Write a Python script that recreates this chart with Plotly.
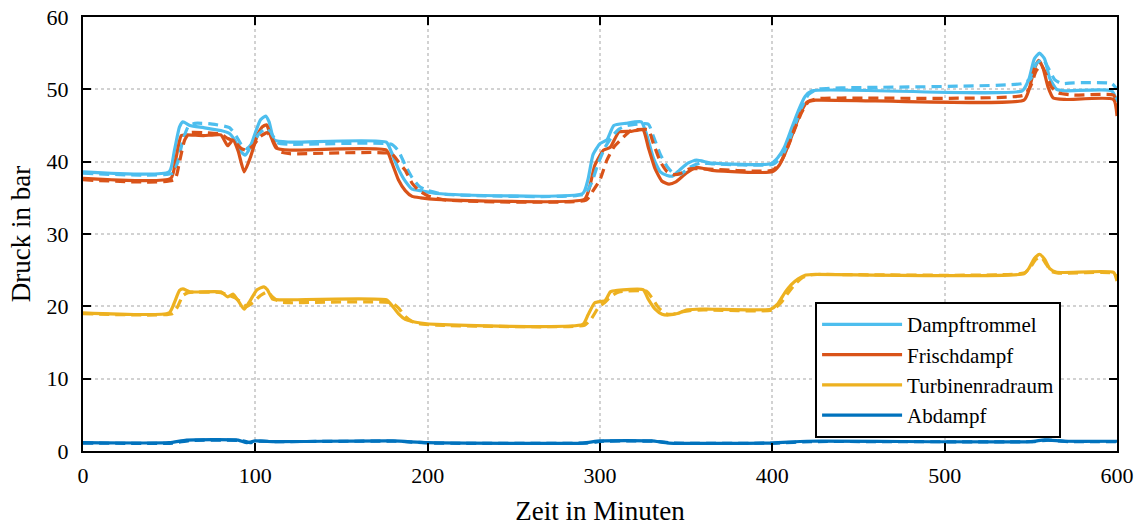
import plotly.graph_objects as go

# ---- data ----
names = ["Dampftrommel", "Frischdampf", "Turbinenradraum", "Abdampf"]
colors = ["#4DBEEE", "#D95319", "#EDB120", "#0072BD"]

t_dt = [0, 50, 53, 56, 58, 62, 70, 80, 85, 88, 91, 94, 97, 100, 103, 106, 108, 111, 120, 176, 179, 183, 187, 191, 196, 205, 290, 293, 296, 300, 304, 308, 315, 324, 327, 331, 335, 339, 342, 346, 351, 356, 365, 399, 403, 407, 411, 415, 419, 423, 545, 549, 552, 555, 558, 561, 565, 570, 597, 600]
p_dt = [38.6, 38.6, 41.5, 44.8, 45.5, 45.0, 44.7, 44.3, 43.9, 43.0, 41.6, 40.9, 42.0, 44.0, 45.8, 46.3, 45.5, 43.0, 42.7, 42.7, 41.3, 39.0, 37.3, 36.2, 36.0, 35.6, 35.6, 37.5, 41.0, 42.5, 43.0, 45.0, 45.3, 45.5, 43.8, 40.5, 38.6, 38.1, 38.0, 38.8, 39.8, 40.2, 39.8, 39.7, 40.5, 42.0, 44.5, 47.0, 49.0, 49.8, 49.8, 51.5, 54.2, 55.0, 54.2, 51.5, 50.0, 49.8, 49.8, 48.3]

t_dt_d = [0, 52, 55, 58, 61, 65, 75, 85, 89, 92, 95, 98, 102, 106, 109, 113, 120, 179, 183, 187, 191, 195, 200, 210, 291, 295, 299, 303, 307, 311, 316, 328, 331, 335, 339, 343, 347, 352, 358, 365, 400, 405, 409, 413, 417, 421, 426, 440, 545, 550, 553, 557, 560, 564, 568, 575, 597, 600]
p_dt_d = [38.4, 38.4, 40.0, 43.0, 44.8, 45.3, 45.2, 44.7, 43.5, 42.3, 41.8, 42.5, 43.8, 44.6, 44.0, 42.6, 42.4, 42.4, 41.5, 39.5, 37.8, 36.6, 36.0, 35.5, 35.5, 37.0, 39.8, 42.0, 43.5, 44.5, 45.0, 45.2, 43.5, 41.0, 39.3, 38.3, 38.3, 39.2, 39.8, 39.7, 39.6, 40.5, 42.5, 45.0, 47.5, 49.3, 50.0, 50.2, 50.8, 51.5, 53.5, 54.2, 53.0, 51.3, 50.8, 50.9, 50.8, 50.0]

t_fd = [0, 51, 54, 57, 60, 70, 80, 84, 87, 90, 93.5, 97, 101, 104, 106.5, 109, 112, 120, 176, 179, 183, 187, 191, 196, 205, 291, 294, 297, 302, 306, 311, 318, 325, 328, 332, 336, 340, 344, 350, 356, 365, 400, 404, 408, 412, 416, 420, 425, 546, 549, 552, 554.5, 557, 560, 563, 570, 598, 600]
p_fd = [37.7, 37.7, 40.5, 43.6, 43.7, 43.6, 43.7, 42.2, 43.0, 41.5, 38.6, 40.5, 43.5, 44.8, 45.1, 43.5, 41.9, 41.6, 41.6, 40.0, 37.5, 36.0, 35.2, 35.0, 34.8, 34.8, 36.5, 39.5, 41.6, 42.0, 44.1, 44.2, 44.4, 42.0, 39.0, 37.3, 36.9, 37.2, 38.4, 39.2, 38.8, 38.6, 39.5, 41.5, 44.0, 46.5, 48.2, 48.5, 48.5, 50.0, 52.8, 54.0, 53.0, 50.3, 48.8, 48.6, 48.6, 46.3]

t_fd_d = [0, 53, 56, 59, 62, 70, 80, 84, 88, 92, 95, 99, 103, 107, 110, 114, 120, 179, 183, 187, 191, 195, 200, 210, 292, 296, 300, 304, 308, 312, 318, 328, 331, 335, 339, 343, 347, 352, 360, 400, 405, 409, 413, 417, 421, 426, 440, 546, 550, 553, 556, 559, 562, 566, 575, 598, 600]
p_fd_d = [37.5, 37.5, 40.0, 43.0, 44.0, 44.0, 43.8, 43.2, 42.8, 41.8, 41.6, 42.3, 43.5, 44.0, 43.0, 41.4, 41.1, 41.1, 40.0, 38.8, 37.0, 36.0, 35.3, 34.7, 34.7, 36.0, 37.5, 40.2, 42.0, 43.0, 44.3, 44.4, 42.5, 40.0, 38.6, 38.2, 38.4, 39.0, 39.0, 38.8, 40.0, 42.0, 44.5, 46.8, 48.3, 48.7, 48.8, 49.2, 50.5, 52.5, 53.3, 52.0, 50.3, 49.5, 49.2, 49.2, 48.0]

t_tr = [0, 50, 53, 56, 58, 62, 80, 84, 87, 90, 93.5, 97, 101, 105, 107, 110, 115, 176, 179, 183, 187, 191, 196, 205, 290, 293, 297, 303, 306, 310, 325, 328, 332, 336, 340, 345, 350, 356, 365, 399, 403, 407, 411, 415, 419, 423, 546, 549, 552, 555, 558, 561, 565, 598, 600]
p_tr = [19.1, 19.1, 20.5, 22.2, 22.4, 22.0, 22.0, 21.3, 21.7, 20.8, 19.6, 20.8, 22.3, 22.7, 22.3, 21.0, 20.9, 20.9, 20.2, 19.0, 18.2, 17.9, 17.7, 17.5, 17.5, 18.8, 20.5, 20.8, 22.0, 22.2, 22.3, 21.0, 19.6, 18.9, 18.8, 19.0, 19.5, 19.6, 19.6, 19.6, 20.3, 21.8, 23.0, 23.8, 24.3, 24.4, 24.5, 25.3, 26.6, 27.2, 26.5, 25.2, 24.7, 24.7, 23.5]

t_tr_d = [0, 52, 55, 58, 61, 80, 85, 88, 92, 95, 99, 103, 107, 110, 114, 120, 179, 183, 187, 191, 195, 205, 291, 295, 299, 303, 307, 311, 327, 330, 334, 338, 342, 347, 352, 360, 400, 405, 409, 413, 417, 421, 426, 546, 550, 553, 556, 559, 562, 566, 598, 600]
p_tr_d = [19.0, 19.0, 20.0, 21.5, 21.9, 21.9, 21.5, 21.2, 20.5, 20.0, 20.6, 21.5, 22.0, 21.3, 20.6, 20.5, 20.5, 19.8, 18.6, 17.9, 17.6, 17.4, 17.4, 18.3, 19.8, 20.6, 21.5, 22.0, 22.1, 21.2, 19.8, 19.0, 18.9, 19.2, 19.4, 19.5, 19.5, 20.5, 21.8, 23.0, 23.9, 24.3, 24.4, 24.6, 25.5, 26.5, 26.8, 25.8, 24.8, 24.6, 24.6, 24.0]

t_ad = [0, 50, 60, 90, 95, 100, 110, 180, 200, 290, 300, 330, 340, 400, 420, 550, 558, 570, 600]
p_ad = [1.15, 1.15, 1.5, 1.5, 1.15, 1.4, 1.3, 1.4, 1.15, 1.1, 1.4, 1.4, 1.1, 1.1, 1.35, 1.3, 1.55, 1.35, 1.35]

t_ad_d = [0, 52, 62, 92, 97, 102, 112, 182, 202, 292, 302, 332, 342, 402, 422, 552, 560, 572, 600]
p_ad_d = [1.1, 1.1, 1.45, 1.45, 1.15, 1.35, 1.3, 1.35, 1.1, 1.1, 1.35, 1.35, 1.1, 1.1, 1.3, 1.3, 1.5, 1.3, 1.3]

x_ticks = [0, 100, 200, 300, 400, 500, 600]
y_ticks = [0, 10, 20, 30, 40, 50, 60]

solid = [(t_dt, p_dt), (t_fd, p_fd), (t_tr, p_tr), (t_ad, p_ad)]
dashed = [(t_dt_d, p_dt_d), (t_fd_d, p_fd_d), (t_tr_d, p_tr_d), (t_ad_d, p_ad_d)]

FONT = "Liberation Serif"

fig = go.Figure()
for (t, p), name, c in zip(solid, names, colors):
    fig.add_trace(go.Scatter(x=t, y=p, mode="lines", name=name,
                             line=dict(color=c, width=3.2, shape="spline", smoothing=0.5)))
for (t, p), name, c in zip(dashed, names, colors):
    fig.add_trace(go.Scatter(x=t, y=p, mode="lines", name=name + " (Sim.)", showlegend=False,
                             line=dict(color=c, width=3.2, dash="10px,6px", shape="spline", smoothing=0.5)))

axis_common = dict(showline=True, linecolor="black", linewidth=2, mirror="ticks",
                   ticks="inside", ticklen=8, tickwidth=2, tickcolor="black",
                   showgrid=True, gridcolor="#d2d2d2", gridwidth=1.5, griddash="dot",
                   zeroline=False, tickfont=dict(family=FONT, size=22, color="black"))

fig.update_xaxes(range=[0, 600], tickvals=x_ticks, ticklabelstandoff=4,
                 title=dict(text="Zeit in Minuten",
                            font=dict(family=FONT, size=27, color="black"), standoff=14),
                 **axis_common)
fig.update_yaxes(range=[0, 60], tickvals=y_ticks, ticklabelstandoff=8,
                 title=dict(text="Druck in bar",
                            font=dict(family=FONT, size=27, color="black"), standoff=8),
                 **axis_common)

fig.update_layout(
    width=1141, height=527,
    margin=dict(l=83, r=24, t=17, b=76, autoexpand=False),
    paper_bgcolor="white", plot_bgcolor="white",
    showlegend=True,
    legend=dict(x=0.708, y=0.343, xanchor="left", yanchor="top",
                bgcolor="white", bordercolor="black", borderwidth=2,
                font=dict(family=FONT, size=21, color="black"),
                itemwidth=80, tracegroupgap=0),
)

fig.write_html("out.html", config={"displayModeBar": False},
               post_script="document.body.style.margin='0';")
